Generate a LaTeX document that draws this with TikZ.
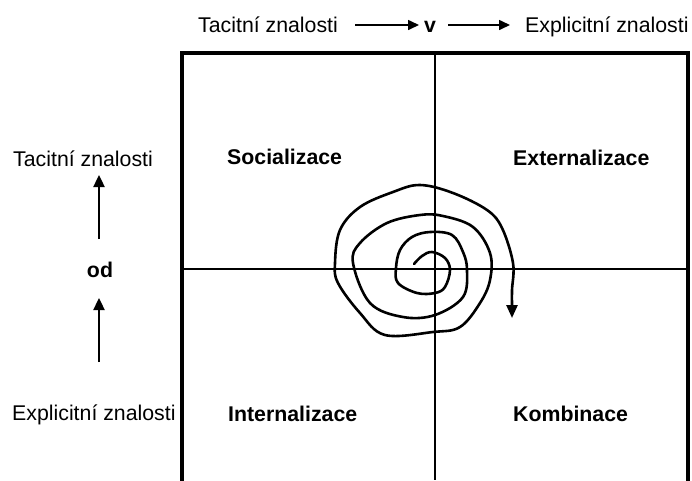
\documentclass[tikz,border=0pt]{standalone}
\usepackage{fontspec}
\setmainfont{Liberation Sans}
\usetikzlibrary{arrows.meta}
\begin{document}
\begin{tikzpicture}[x=1pt,y=-1pt,
  lbl/.style={anchor=base west,inner sep=0pt,font=\fontsize{21.3}{25}\selectfont},
  blbl/.style={lbl,font=\fontsize{21.3}{25}\selectfont\bfseries},
  arr/.style={line width=1.6pt,-{Triangle[length=11pt,width=10pt]}},
  varr/.style={line width=2.4pt,-{Triangle[length=12pt,width=11pt]}},
  spiral/.style={line width=2.6pt,line join=round,line cap=round},
  frame/.style={line width=4.5pt},
  axis/.style={line width=1.6pt}]
\useasboundingbox (0,0) rectangle (692,480);
\clip (0,0) rectangle (692,480);
% frame and axes
\draw[frame] (182,53) rectangle (688,500);
\draw[axis] (435,53) -- (435,480);
\draw[axis] (182,269) -- (688,269);
% top labels
\node[lbl] (tt) at (198,32) {Tacitní znalosti};
\node[blbl,anchor=base] (v) at (430,32) {v};
\node[lbl] (te) at (525,32) {Explicitní znalosti};
\coordinate (a1s) at (355,25);
\coordinate (a1e) at (419,25);
\coordinate (a2s) at (448,25);
\coordinate (a2e) at (510,25);
\draw[arr] (a1s) -- (a1e);
\draw[arr] (a2s) -- (a2e);
% left labels
\node[lbl] (lt) at (13,166) {Tacitní znalosti};
\node[blbl,anchor=base] (od) at (100,277) {od};
\node[lbl] (le) at (12,420) {Explicitní znalosti};
\coordinate (b1s) at (99,239);
\coordinate (b1e) at (99,175);
\coordinate (b2s) at (99,362);
\coordinate (b2e) at (99,298);
\draw[varr] (b1s) -- (b1e);
\draw[varr] (b2s) -- (b2e);
% quadrant labels
\node[blbl] (soc) at (227,164) {Socializace};
\node[blbl] (ext) at (513,165) {Externalizace};
\node[blbl] (int) at (228,421) {Internalizace};
\node[blbl] (kom) at (513,421) {Kombinace};
% spiral
\draw[spiral] plot[smooth,tension=0.6] coordinates {
 (414,264) (422,256) (432,252) (445,258) (450,270) (445,287) (435,293)
 (417,293) (398,283) (396,268) (400,250) (412,237) (430,232) (452,235)
 (463,252) (467,270) (463,297) (435,315) (403,317) (370,303) (353,263)
 (360,243) (387,223) (420,215) (443,216) (473,227) (490,253) (490,280)
 (480,303) (460,327) (433,332) (385,335) (360,313) (338,283) (335,263)
 (340,230) (360,207) (393,192) (420,185) (453,193) (487,210) (502,228)
 (513,263) (512,290) (512,305)};
\coordinate (sp) at (512,304);
\coordinate (spt) at (512,318);
\draw[line width=2.6pt,-{Triangle[length=13pt,width=11pt]}] (sp) -- (spt);
\end{tikzpicture}
\end{document}
